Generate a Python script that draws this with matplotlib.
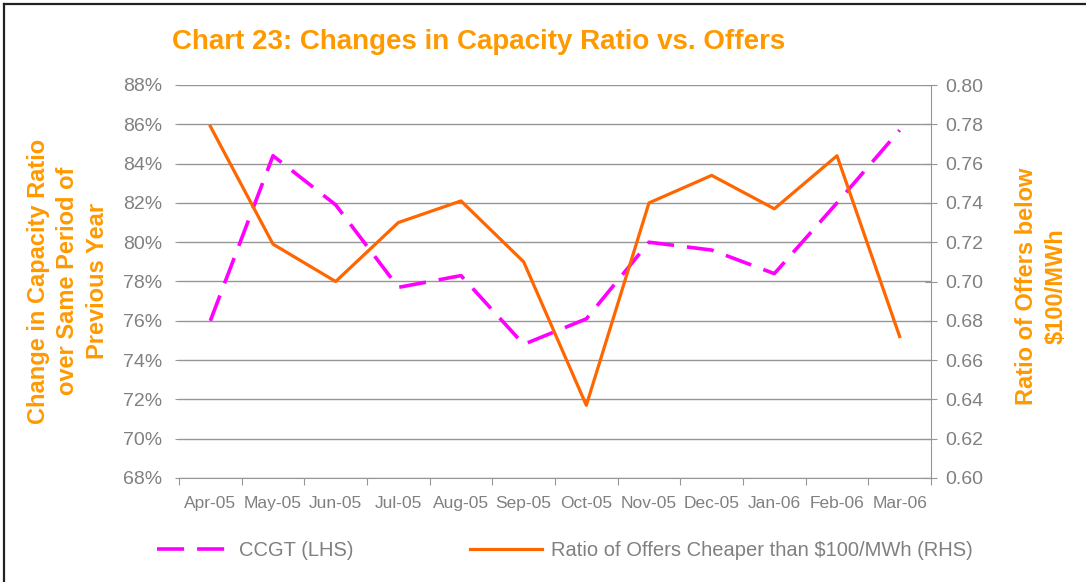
import matplotlib
matplotlib.use('Agg')
import matplotlib.pyplot as plt
from matplotlib.lines import Line2D
from matplotlib.ticker import FuncFormatter, MultipleLocator, FixedLocator
import numpy as np

plt.rcParams['font.family'] = ['Liberation Sans', 'DejaVu Sans']

# Data
months = ['Apr-05', 'May-05', 'Jun-05', 'Jul-05', 'Aug-05', 'Sep-05',
          'Oct-05', 'Nov-05', 'Dec-05', 'Jan-06', 'Feb-06', 'Mar-06']
ccgt = [76.0, 84.4, 81.9, 77.7, 78.3, 74.8, 76.1, 80.0, 79.6, 78.4, 82.0, 85.7]
offers = [0.779, 0.719, 0.700, 0.730, 0.741, 0.710, 0.637, 0.740, 0.754, 0.737, 0.764, 0.672]

# Colours
title_orange = '#FF9900'
line_orange = '#FF6600'
pink = '#FF00FF'
grey_text = '#808080'
grid_grey = '#969696'

W, H = 1086, 582
fig = plt.figure(figsize=(W / 100, H / 100), dpi=100)
fig.patch.set_facecolor('white')

ax = fig.add_axes([179 / W, 1 - 478 / H, (931 - 179) / W, (478 - 85) / H])
ax2 = ax.twinx()

x = np.arange(len(months))

ax.plot(x, ccgt, color=pink, linewidth=2.6, linestyle=(0, (7.5, 3.6)),
        dash_capstyle='butt', label='CCGT (LHS)', zorder=3)
ax2.plot(x, offers, color=line_orange, linewidth=2.3,
         label='Ratio of Offers Cheaper than $100/MWh (RHS)', zorder=4)

# Left axis
ax.set_ylim(68, 88)
ax.yaxis.set_major_locator(MultipleLocator(2))
ax.yaxis.set_major_formatter(FuncFormatter(lambda v, p: f'{v:.0f}%'))
ax.grid(axis='y', color=grid_grey, linewidth=1.0)
ax.set_axisbelow(True)
ax.tick_params(axis='y', direction='out', length=3, width=0.8, color=grid_grey,
               pad=9, labelsize=14, labelcolor=grey_text)

# Right axis
ax2.set_ylim(0.60, 0.80)
ax2.yaxis.set_major_locator(MultipleLocator(0.02))
ax2.yaxis.set_major_formatter(FuncFormatter(lambda v, p: f'{v:.2f}'))
ax2.tick_params(axis='y', direction='inout', length=9, width=0.8, color=grid_grey,
                pad=6, labelsize=14, labelcolor=grey_text)

# Category axis
ax.set_xlim(-0.5, len(months) - 0.5)
ax.set_xticks(x)
ax.set_xticklabels(months)
ax.xaxis.set_minor_locator(FixedLocator(np.arange(-0.5, len(months), 1.0)))
ax.tick_params(axis='x', which='major', length=0, pad=13, labelsize=12.5,
               labelcolor=grey_text)
ax.tick_params(axis='x', which='minor', direction='out', length=5, width=0.8,
               color=grid_grey)

for a in (ax, ax2):
    for s in ('top', 'left', 'right', 'bottom'):
        a.spines[s].set_visible(False)
ax.spines['bottom'].set_visible(True)
ax.spines['bottom'].set_color(grid_grey)
ax2.spines['right'].set_visible(True)
ax2.spines['right'].set_color(grid_grey)

# Titles and axis labels
fig.text(172 / W, 1 - 42 / H, 'Chart 23: Changes in Capacity Ratio vs. Offers',
         fontsize=20, fontweight='bold', color=title_orange, ha='left', va='center')
fig.text(68 / W, 1 - 281 / H,
         'Change in Capacity Ratio\nover Same Period of\nPrevious Year',
         fontsize=17, fontweight='bold', color=title_orange, rotation=90,
         ha='center', va='center', multialignment='center', linespacing=1.38)
fig.text(1041 / W, 1 - 286 / H, 'Ratio of Offers below\n$100/MWh',
         fontsize=17, fontweight='bold', color=title_orange, rotation=90,
         ha='center', va='center', multialignment='center', linespacing=1.38)

# Legend
handles = ax.get_lines() + ax2.get_lines()
leg = fig.legend(handles=handles, labels=[h.get_label() for h in handles],
                 loc='center left', bbox_to_anchor=(157 / W, 1 - 551 / H),
                 ncol=2, frameon=False, fontsize=14.5, handlelength=3.6,
                 handletextpad=0.45, columnspacing=5.8, borderpad=0,
                 borderaxespad=0)
for t in leg.get_texts():
    t.set_color(grey_text)

# Chart frame (top and left edges visible)
fig.add_artist(Line2D([4 / W, 4 / W], [0, 1 - 4 / H], transform=fig.transFigure,
                      color='#222222', linewidth=1.6))
fig.add_artist(Line2D([4 / W, 1], [1 - 4 / H, 1 - 4 / H], transform=fig.transFigure,
                      color='#222222', linewidth=1.6))

fig.savefig('out.png', dpi=100, facecolor='white')
plt.close(fig)
